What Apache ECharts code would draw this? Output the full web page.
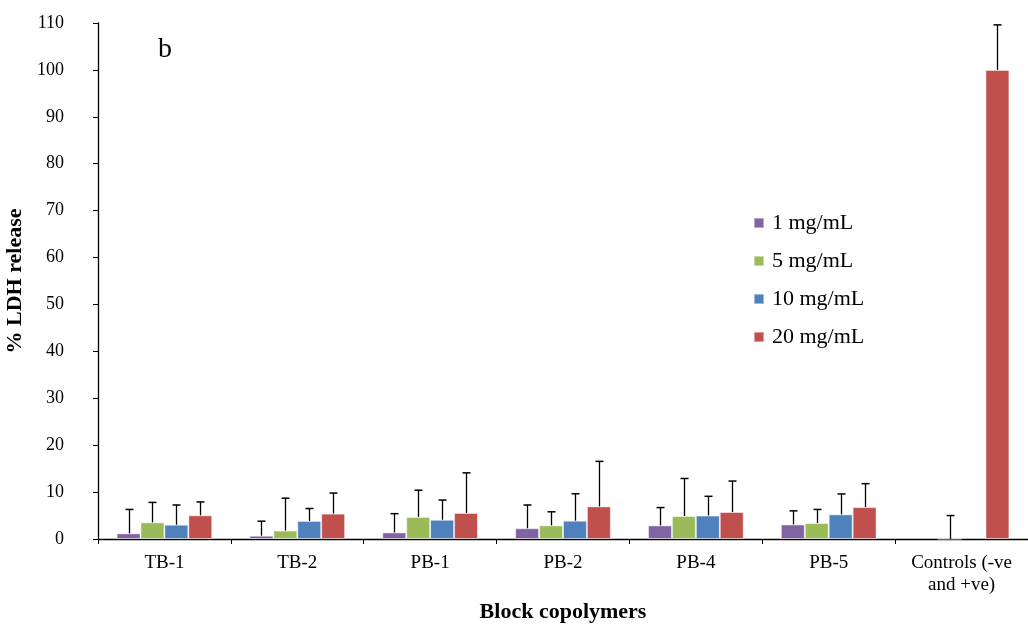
<!DOCTYPE html>
<html>
<head>
<meta charset="utf-8">
<script src="https://cdn.jsdelivr.net/npm/echarts@6/dist/echarts.min.js"></script>
<style>html,body{margin:0;padding:0;background:#fff;}#c{width:1028px;height:626px;}</style>
</head>
<body>
<div id="c"></div>
<script>
const categories = ['TB-1','TB-2','PB-1','PB-2','PB-4','PB-5','Controls (-ve\nand +ve)'];
const seriesNames = ['1 mg/mL','5 mg/mL','10 mg/mL','20 mg/mL'];
const yTicks = [0,10,20,30,40,50,60,70,80,90,100,110];
const v1  = [1.2, 0.7, 1.4, 2.3, 2.9, 3.1, null];
const v5  = [3.55, 1.8, 4.7, 2.9, 4.9, 3.4, 0];
const v10 = [3.05, 3.85, 4.1, 3.9, 5.0, 5.25, null];
const v20 = [5.05, 5.4, 5.55, 6.95, 5.75, 6.8, 100];
const e1  = [5.1, 3.1, 4.0, 4.95, 3.8, 2.9, null];
const e5  = [4.25, 6.9, 5.7, 2.9, 8.0, 2.9, 5.0];
const e10 = [4.2, 2.65, 4.2, 5.75, 4.1, 4.35, null];
const e20 = [2.85, 4.4, 8.55, 9.6, 6.6, 5.0, 9.6];

const values = [v1, v5, v10, v20];
const errors = [e1, e5, e10, e20];
const colors = ['#8064A2', '#9BBB59', '#4F81BD', '#C0504D'];
const FONT = 'Liberation Serif, Times New Roman, serif';
const BAR_FRAC = 0.18;

const chart = echarts.init(document.getElementById('c'), null, {renderer: 'canvas'});

function errRenderer(idx) {
  return function (params, api) {
    const c = api.value(0), v = api.value(1), e = api.value(2);
    if (e == null || isNaN(e) || isNaN(v)) return;
    const band = api.size([1, 0])[0];
    const bw = band * BAR_FRAC;
    const base = api.coord([c, v]);
    const top = api.coord([c, v + e]);
    const x = Math.round(base[0] + (idx - 1.5) * bw) + 0.5;
    return {
      type: 'group',
      children: [
        {type: 'line', shape: {x1: x, y1: base[1], x2: x, y2: top[1]}, style: {stroke: '#000', lineWidth: 1.3}},
        {type: 'line', shape: {x1: x - 4, y1: top[1], x2: x + 4, y2: top[1]}, style: {stroke: '#000', lineWidth: 1.5}}
      ]
    };
  };
}

const series = [];
seriesNames.forEach((name, i) => {
  series.push({
    name: name,
    type: 'bar',
    data: values[i],
    barWidth: (BAR_FRAC * 100) + '%',
    barGap: '0%',
    itemStyle: {color: colors[i], borderColor: 'rgba(255,255,255,0.45)', borderWidth: 1},
    z: 2
  });
});
seriesNames.forEach((name, i) => {
  const data = [];
  values[i].forEach((v, k) => {
    if (v != null && errors[i][k] != null) data.push([k, v, errors[i][k]]);
  });
  series.push({
    name: 'err' + i,
    type: 'custom',
    renderItem: errRenderer(i),
    encode: {x: 0, y: 1},
    data: data,
    z: 5,
    silent: true
  });
});

chart.setOption({
  animation: false,
  backgroundColor: '#fff',
  title: {
    text: 'b', left: 153, top: 31,
    textStyle: {fontFamily: FONT, fontSize: 28, fontWeight: 'normal', color: '#000'}
  },
  legend: {
    data: seriesNames,
    orient: 'vertical',
    left: 748, top: 207,
    itemWidth: 10, itemHeight: 10, itemGap: 16,
    icon: 'rect',
    textStyle: {fontFamily: FONT, fontSize: 22, color: '#000', padding: [0, 0, 0, 3]}
  },
  grid: {left: 98, right: 0, top: 23, bottom: 87, containLabel: false, outerBoundsMode: 'none'},
  xAxis: {
    type: 'category',
    data: categories,
    name: 'Block copolymers',
    nameLocation: 'middle',
    nameGap: 62,
    nameTextStyle: {fontFamily: FONT, fontSize: 22, fontWeight: 'bold', color: '#000'},
    axisLine: {lineStyle: {color: '#000', width: 1.3}},
    axisTick: {show: true, length: 5, lineStyle: {color: '#000'}},
    axisLabel: {fontFamily: FONT, fontSize: 19, color: '#000', margin: 13, lineHeight: 22, interval: 0}
  },
  yAxis: {
    type: 'value',
    min: 0, max: 110, interval: 10,
    name: '% LDH release',
    nameLocation: 'middle',
    nameRotate: 90,
    nameGap: 71,
    nameTextStyle: {fontFamily: FONT, fontSize: 22, fontWeight: 'bold', color: '#000'},
    axisLine: {show: true, lineStyle: {color: '#000', width: 1.3}},
    axisTick: {show: true, length: 5, lineStyle: {color: '#000'}},
    splitLine: {show: false},
    axisLabel: {fontFamily: FONT, fontSize: 18, color: '#000', margin: 34,
      formatter: function (v) { return yTicks.indexOf(v) >= 0 ? String(v) : ''; }}
  },
  series: series
});
</script>
</body>
</html>
